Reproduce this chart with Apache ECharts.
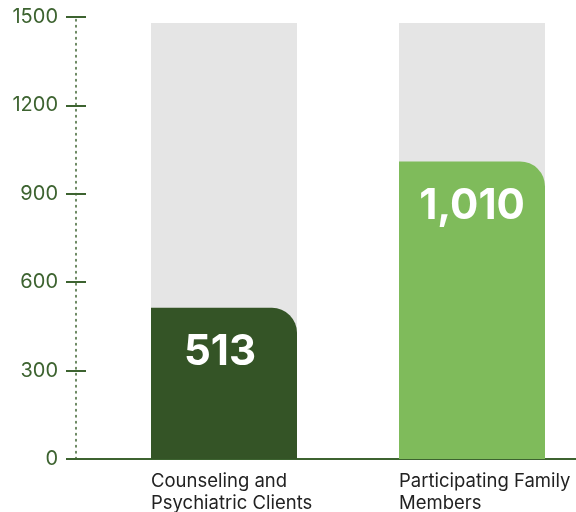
<!DOCTYPE html>
<html>
<head>
<meta charset="utf-8">
<script src="https://cdn.jsdelivr.net/npm/echarts@6/dist/echarts.min.js"></script>
<style>html,body{margin:0;padding:0;background:#fff}#c{width:576px;height:512px}</style>
</head>
<body>
<div id="c"></div>
<script>
const categories = ['Counseling and\nPsychiatric Clients', 'Participating Family\nMembers'];
const values = [513, 1010];
const backgroundValues = [1480, 1480];
const barColors = ['#345426', '#7fbb5b'];
const yTicks = [0, 300, 600, 900, 1200, 1500];

const green = '#3d6330';
const chart = echarts.init(document.getElementById('c'));
const commonY = {
  type: 'value', min: yTicks[0], max: yTicks[yTicks.length - 1], interval: yTicks[1] - yTicks[0],
  position: 'left', offset: 24, splitLine: { show: false }
};
chart.setOption({
  animation: false,
  textStyle: { fontFamily: 'Inter' },
  grid: { left: 100, width: 496, top: 17, bottom: 53, outerBoundsMode: 'none', containLabel: false },
  xAxis: {
    type: 'category', data: categories,
    axisLine: { show: true, lineStyle: { color: green, width: 2 } },
    axisTick: { show: false },
    axisLabel: {
      margin: 12, color: '#222', fontSize: 18.5, lineHeight: 21.5, interval: 0, hideOverlap: false,
      formatter: v => v.split('\n').map(s => '{a|' + s + '}').join('\n'),
      rich: { a: { width: 146, align: 'left', fontSize: 18.5, lineHeight: 21.5, color: '#222', fontFamily: 'Inter' } }
    }
  },
  yAxis: [
    Object.assign({}, commonY, {
      axisLine: { show: true, lineStyle: { color: green, width: 1.5, type: [1.5, 4.5] } },
      axisTick: { show: true, length: 10, lineStyle: { color: green, width: 2 } },
      axisLabel: { color: green, fontSize: 20, margin: 18, fontFamily: 'Inter', formatter: v => String(v) }
    }),
    Object.assign({}, commonY, {
      axisLine: { show: false },
      axisTick: { show: true, inside: true, length: 10, lineStyle: { color: green, width: 2 } },
      axisLabel: { show: false }
    })
  ],
  series: [
    {
      type: 'bar', data: backgroundValues, barWidth: 146, barGap: '-100%',
      itemStyle: { color: '#e5e5e5' }, silent: true
    },
    {
      type: 'bar', barWidth: 146, barGap: '-100%',
      data: values.map((v, i) => ({ value: v, itemStyle: { color: barColors[i] }, label: { offset: [i === 0 ? -4 : 0, 0] } })),
      itemStyle: { borderRadius: [0, 25, 0, 0] },
      label: {
        show: true, position: 'insideTop', distance: 24, color: '#fff',
        fontSize: 42, fontWeight: 'bold', fontFamily: 'Inter',
        formatter: p => p.value.toLocaleString('en-US')
      }
    }
  ]
});
const p0 = Math.round(chart.convertToPixel({ yAxisIndex: 0 }, 0));
chart.setOption({
  graphic: [{ type: 'rect', shape: { x: 66, y: p0 - 1, width: 36, height: 2 }, style: { fill: green } }]
});
</script>
</body>
</html>
